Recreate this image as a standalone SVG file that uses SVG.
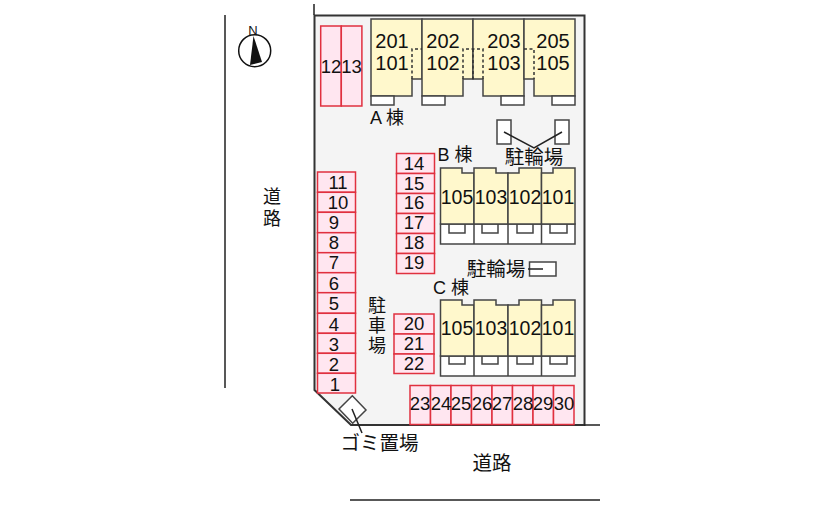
<svg xmlns="http://www.w3.org/2000/svg" width="838" height="515" viewBox="0 0 838 515">
<style>
text{font-family:"Liberation Sans","Noto Sans CJK JP",sans-serif;font-size:20px;fill:#111;text-anchor:middle}
.j{font-size:19.500px}
.v{font-size:18px}
.n{font-size:18.500px}
.b{font-size:19.500px}
.p{fill:#ffe6f0;stroke:#e0303f;stroke-width:1.5}
.y{fill:#fff8cc;stroke:#444;stroke-width:1.5}
.w{fill:#fff;stroke:#444;stroke-width:1.5}
.u{fill:none;stroke:#444;stroke-width:1.5}
.d{fill:none;stroke:#333;stroke-width:1.5;stroke-dasharray:3 2.5}
.l{fill:none;stroke:#222;stroke-width:1.5}
</style>
<rect width="838" height="515" fill="#fff"/>
<g id="site">
<path d="M314.500 15.500H584.500V425H351L314.500 390Z" fill="#f4f4f4" stroke="#333" stroke-width="2"/>
</g>
<g id="north">
<circle cx="254.700" cy="50.700" r="16" fill="#fff" stroke="#111" stroke-width="1.500"/>
<path d="M253.500 36L250 65L262 62Z" fill="#111"/>
<text x="253" y="34.500" style="font-size:13px">N</text>
</g>
<g id="parking-12-13">
<rect class="p" x="320.700" y="26" width="20.600" height="80"/><rect class="p" x="341.300" y="26" width="20.600" height="80"/>
<text class="n" x="331" y="73">12</text><text class="n" x="351.500" y="73">13</text>
</g>
<g id="building-a">
<path class="y" d="M371 19H422V79H412V96H371Z"/><path class="y" d="M422 19H473V79H463V96H422Z"/>
<path class="y" d="M473 19H524V96H483V79H473Z"/><path class="y" d="M524 19H575V96H534V79H524Z"/>
<path class="d" d="M412 79V49H422M463 79V49H483V79M473 49V79M524 49H534V79"/>
<rect class="w" x="371" y="96" width="23" height="9"/><rect class="w" x="422" y="96" width="23" height="9"/><rect class="w" x="501" y="96" width="23" height="9"/><rect class="w" x="552" y="96" width="23" height="9"/>
<text x="392" y="48">201</text><text x="392" y="70">101</text>
<text x="443" y="48">202</text><text x="443" y="70">102</text>
<text x="504" y="48">203</text><text x="504" y="70">103</text>
<text x="553" y="48">205</text><text x="553" y="70">105</text>
<text x="387" y="124" style="font-size:18px">A 棟</text>
</g>
<g id="bike-a">
<rect class="w" x="497" y="120" width="14" height="24"/><rect class="w" x="555" y="120" width="14" height="24"/>
<text x="534" y="164" class="j">駐輪場</text>
</g>
<g id="building-b">
<rect class="w" x="440.500" y="224" width="134.500" height="20"/><path class="u" d="M474 224V244M508 224V244M541.500 224V244M449 224V233H465V224M482 224V233H498V224M517 224V233H533V224M550 224V233H567V224"/>
<path class="y" d="M440.500 168H462V173H474V224H440.500Z"/><path class="y" d="M474 168H496V173H508V224H474Z"/><path class="y" d="M508 173H519V168H541.500V224H508Z"/><path class="y" d="M541.500 173H553V168H575V224H541.500Z"/>
<text class="b" x="457" y="204">105</text><text class="b" x="491" y="204">103</text><text class="b" x="525" y="204">102</text><text class="b" x="558" y="204">101</text>
<text x="455" y="161" style="font-size:18px">B 棟</text>
</g>
<g id="bike-b">
<rect class="w" x="529.500" y="262" width="26.500" height="14"/>
<text x="496" y="276" class="j">駐輪場</text>
</g>
<g id="building-c">
<rect class="w" x="440.500" y="356" width="134.500" height="20"/><path class="u" d="M474 356V376M508 356V376M541.500 356V376M449 356V364H465V356M482 356V364H498V356M517 356V364H533V356M550 356V364H567V356"/>
<path class="y" d="M440.500 300H462V305H474V356H440.500Z"/><path class="y" d="M474 300H496V305H508V356H474Z"/><path class="y" d="M508 305H519V300H541.500V356H508Z"/><path class="y" d="M541.500 305H553V300H575V356H541.500Z"/>
<text class="b" x="457" y="335">105</text><text class="b" x="491" y="335">103</text><text class="b" x="525" y="335">102</text><text class="b" x="558" y="335">101</text>
<text x="451" y="294" style="font-size:18px">C 棟</text>
</g>
<g id="parking-1-11">
<rect class="p" x="317.500" y="172" width="38" height="20.300"/><rect class="p" x="317.500" y="192.300" width="38" height="20"/><rect class="p" x="317.500" y="212.300" width="38" height="20.400"/><rect class="p" x="317.500" y="232.700" width="38" height="20"/><rect class="p" x="317.500" y="252.700" width="38" height="20"/><rect class="p" x="317.500" y="272.700" width="38" height="20"/><rect class="p" x="317.500" y="292.700" width="38" height="20.600"/><rect class="p" x="317.500" y="313.300" width="38" height="20"/><rect class="p" x="317.500" y="333.300" width="38" height="20"/><rect class="p" x="317.500" y="353.300" width="38" height="20"/><rect class="p" x="317.500" y="373.300" width="38" height="19.700"/>
<text class="n" x="338" y="189">11</text><text class="n" x="338" y="209">10</text><text class="n" x="334" y="229">9</text><text class="n" x="334" y="249">8</text><text class="n" x="334" y="269">7</text><text class="n" x="334" y="290">6</text><text class="n" x="334" y="310">5</text><text class="n" x="334" y="331">4</text><text class="n" x="334" y="350.500">3</text><text class="n" x="334" y="371">2</text><text class="n" x="335" y="391">1</text>
</g>
<g id="parking-14-19">
<rect class="p" x="396.500" y="153.500" width="38" height="20"/><rect class="p" x="396.500" y="173.500" width="38" height="20"/><rect class="p" x="396.500" y="193.500" width="38" height="20"/><rect class="p" x="396.500" y="213.500" width="38" height="20"/><rect class="p" x="396.500" y="233.500" width="38" height="20"/><rect class="p" x="396.500" y="253.500" width="38" height="20"/>
<text class="n" x="414" y="169.500">14</text><text class="n" x="414" y="189.500">15</text><text class="n" x="414" y="209">16</text><text class="n" x="414" y="228.500">17</text><text class="n" x="414" y="249">18</text><text class="n" x="414" y="268.500">19</text>
</g>
<g id="parking-20-22">
<rect class="p" x="394" y="314" width="40" height="20"/><rect class="p" x="394" y="334" width="40" height="20"/><rect class="p" x="394" y="354" width="40" height="19.500"/>
<text class="n" x="414" y="330">20</text><text class="n" x="414" y="350">21</text><text class="n" x="414" y="370">22</text>
</g>
<g id="parking-23-30">
<rect class="p" x="410" y="385.500" width="20.500" height="39"/><rect class="p" x="430.500" y="385.500" width="20.500" height="39"/><rect class="p" x="451" y="385.500" width="20.500" height="39"/><rect class="p" x="471.500" y="385.500" width="20.500" height="39"/><rect class="p" x="492" y="385.500" width="20.500" height="39"/><rect class="p" x="512.500" y="385.500" width="20.500" height="39"/><rect class="p" x="533" y="385.500" width="20.500" height="39"/><rect class="p" x="553.500" y="385.500" width="20.500" height="39"/>
<text class="n" x="420" y="410">23</text><text class="n" x="441" y="410">24</text><text class="n" x="461" y="410">25</text><text class="n" x="482" y="410">26</text><text class="n" x="502" y="410">27</text><text class="n" x="523" y="410">28</text><text class="n" x="543" y="410">29</text><text class="n" x="564" y="410">30</text>
</g>
<g id="garbage">
<path class="w" d="M352.300 395.700L366 410L352.700 423.300L339 409Z"/>
<text x="379.500" y="450" class="j">ゴミ置場</text>
</g>
<g id="connectors">
<path class="l" d="M225 15V388M350 500H600M314 4V15M584 425H600"/>
<path class="l" d="M504 132L534 148L562 132M352 409L362 433M528 269H543"/>
</g>
<g id="labels">
<text x="272" y="203" class="v">道</text><text x="272" y="225" class="v">路</text>
<text x="377" y="312" class="v">駐</text><text x="377" y="332" class="v">車</text><text x="377" y="352" class="v">場</text>
<text x="492" y="470" class="j">道路</text>
</g>
</svg>
